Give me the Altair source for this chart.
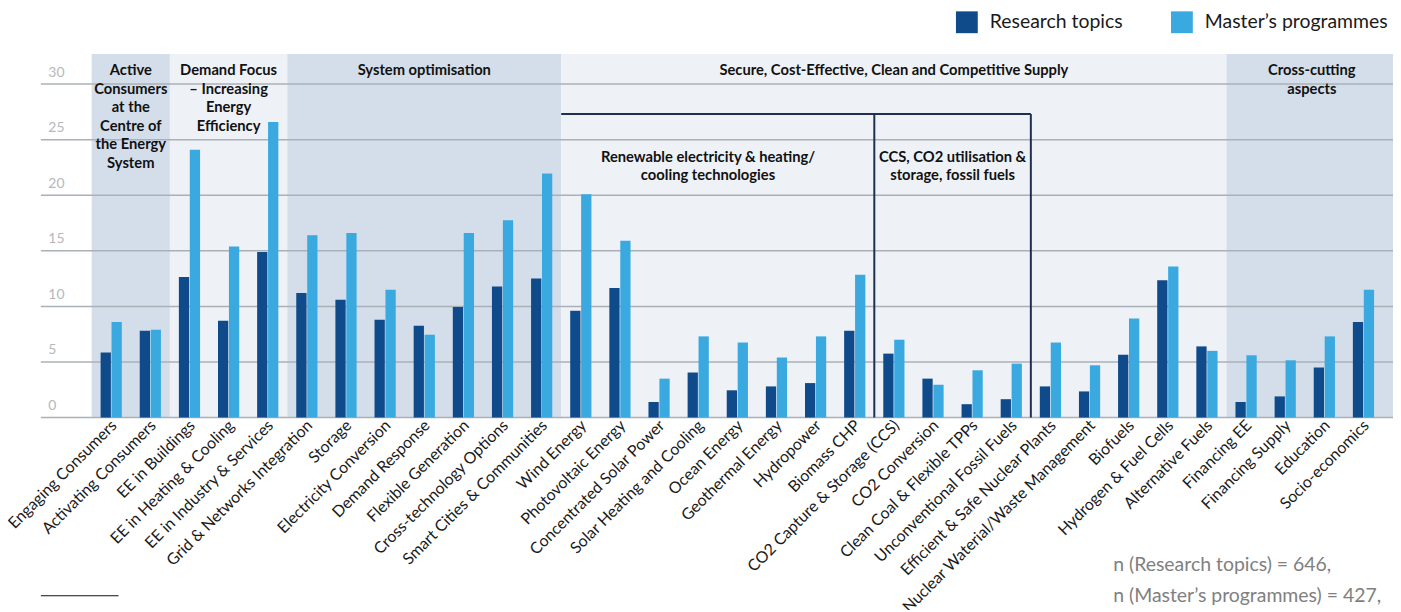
import altair as alt
import pandas as pd

categories = [
    "Engaging Consumers", "Activating Consumers", "EE in Buildings", "EE in Heating & Cooling",
    "EE in Industry & Services", "Grid & Networks Integration", "Storage", "Electricity Conversion",
    "Demand Response", "Flexible Generation", "Cross-technology Options", "Smart Cities & Communities",
    "Wind Energy", "Photovoltaic Energy", "Concentrated Solar Power", "Solar Heating and Cooling",
    "Ocean Energy", "Geothermal Energy", "Hydropower", "Biomass CHP",
    "CO2 Capture & Storage (CCS)", "CO2 Conversion", "Clean Coal & Flexible TPPs",
    "Unconventional Fossil Fuels", "Efficient & Safe Nuclear Plants",
    "Nuclear Waterial/Waste Management", "Biofuels", "Hydrogen & Fuel Cells", "Alternative Fuels",
    "Financing EE", "Financing Supply", "Education", "Socio-economics",
]
research = [5.85, 7.8, 12.65, 8.7, 14.9, 11.2, 10.6, 8.8, 8.25, 9.95, 11.8, 12.5,
            9.6, 11.65, 1.4, 4.05, 2.45, 2.8, 3.1, 7.8,
            5.75, 3.5, 1.2, 1.65, 2.8, 2.35, 5.65, 12.35, 6.4,
            1.4, 1.9, 4.5, 8.6]
masters = [8.6, 7.9, 24.1, 15.4, 26.6, 16.4, 16.6, 11.5, 7.45, 16.6, 17.75, 21.95,
           20.1, 15.9, 3.5, 7.3, 6.75, 5.4, 7.3, 12.85,
           7.0, 2.95, 4.25, 4.85, 6.75, 4.7, 8.9, 13.6, 6.0,
           5.6, 5.15, 7.3, 11.5]
group_names = ["Active", "Demand", "System", "Supply", "Cross"]
group_first = ["Engaging Consumers", "EE in Buildings", "Grid & Networks Integration",
               "Wind Energy", "Financing EE"]
group_last = ["Activating Consumers", "EE in Industry & Services", "Smart Cities & Communities",
              "Alternative Fuels", "Socio-economics"]
group_shade = ["dark", "light", "dark", "light", "dark"]
series_names = ["Research topics", "Master\u2019s programmes"]
y_ticks = [0, 5, 10, 15, 20, 25, 30]

W, H = 1297, 365
FONT = "Lato"

rows = []
for c, r, m in zip(categories, research, masters):
    rows.append({"cat": c, "series": series_names[0], "value": r})
    rows.append({"cat": c, "series": series_names[1], "value": m})
bars_df = pd.DataFrame(rows)
bands_df = pd.DataFrame({"g": group_names, "a": group_first, "b": group_last, "shade": group_shade})
grid_df = pd.DataFrame({"v": y_ticks})

xscale = alt.Scale(domain=categories, paddingInner=0, paddingOuter=0)
fill_scale = alt.Scale(domain=["dark", "light"], range=["#d4deea", "#eef2f7"])

xaxis = alt.Axis(title=None, labelAngle=-45, labelAlign="right", labelBaseline="middle",
                 labelFontSize=16, labelFont=FONT, labelColor="#1a1a1a", domain=False,
                 ticks=False, labelPadding=5, labelOffset=3, labelLimit=400, grid=False)

# group background bands (last group's band runs on to the end of the grid)
bands = alt.Chart(bands_df).transform_filter(alt.datum.g != "Cross").mark_rect(stroke=None).encode(
    x=alt.X("a:N", scale=xscale, bandPosition=0, axis=xaxis),
    x2=alt.X2("b:N", bandPosition=1),
    y=alt.value(0), y2=alt.value(H),
    fill=alt.Fill("shade:N", scale=fill_scale, legend=None),
)
band_last = alt.Chart(bands_df).transform_filter(alt.datum.g == "Cross").mark_rect(stroke=None).encode(
    x=alt.X("a:N", scale=xscale, bandPosition=0, axis=xaxis),
    x2=alt.value(W + 10),
    y=alt.value(0), y2=alt.value(H),
    fill=alt.Fill("shade:N", scale=fill_scale, legend=None),
)

grid = alt.Chart(grid_df).mark_rule(color="#aab0b7", strokeWidth=1.5).encode(
    y=alt.Y("v:Q"), x=alt.value(-51), x2=alt.value(W + 10),
)

bars = alt.Chart(bars_df).mark_bar().encode(
    x=alt.X("cat:N", scale=xscale, axis=xaxis),
    xOffset=alt.XOffset("series:N", sort=series_names,
                        scale=alt.Scale(domain=series_names, paddingInner=0.06, paddingOuter=0.82)),
    y=alt.Y("value:Q", scale=alt.Scale(domain=[0, 32.7], nice=False, zero=True),
            axis=alt.Axis(values=y_ticks, title=None, domain=False, ticks=False, grid=False,
                          labelAlign="left", labelPadding=44, labelOffset=-12, labelFlush=False,
                          labelFontSize=14, labelFont=FONT, labelColor="#b5b8bc")),
    color=alt.Color("series:N", sort=series_names,
                    scale=alt.Scale(domain=series_names, range=["#0f4a8a", "#3aa9e0"]),
                    legend=alt.Legend(orient="none", legendX=868, legendY=-43, direction="horizontal",
                                      title=None, symbolType="square", symbolSize=480,
                                      symbolStrokeWidth=0, labelFontSize=19.5, labelFont=FONT,
                                      labelColor="#1a1a1a", columnPadding=48, labelOffset=12,
                                      labelLimit=400)),
)

# bracket lines
bracket_level = 27.3
bracket_h = pd.DataFrame({"a": ["Wind Energy"], "b": ["Efficient & Safe Nuclear Plants"], "v": [bracket_level]})
bracket_v = pd.DataFrame({"a": ["CO2 Capture & Storage (CCS)", "Efficient & Safe Nuclear Plants"],
                          "v": [bracket_level, bracket_level], "z": [0, 0]})
line_color = "#1e2f4f"
br_h = alt.Chart(bracket_h).mark_rule(color=line_color, strokeWidth=2).encode(
    x=alt.X("a:N", scale=xscale, bandPosition=0, axis=xaxis),
    x2=alt.X2("b:N", bandPosition=0),
    y=alt.Y("v:Q"),
)
br_v = alt.Chart(bracket_v).mark_rule(color=line_color, strokeWidth=2).encode(
    x=alt.X("a:N", scale=xscale, bandPosition=0, axis=xaxis),
    y=alt.Y("v:Q"), y2=alt.Y2("z:Q"),
)

# header texts
hdr_active = pd.DataFrame({"cat": ["Activating Consumers"],
                           "label": ["Active\nConsumers\nat the\nCentre of\nthe Energy\nSystem"]})
hdr_cross = pd.DataFrame({"cat": ["Education"], "label": ["Cross-cutting\naspects"]})
hdr_mid = pd.DataFrame({
    "cat": ["EE in Heating & Cooling", "Demand Response", "CO2 Capture & Storage (CCS)"],
    "label": ["Demand Focus\n\u2013 Increasing\nEnergy\nEfficiency", "System optimisation",
              "Secure, Cost-Effective, Clean and Competitive Supply"],
})
sub_ccs = pd.DataFrame({"cat": ["Clean Coal & Flexible TPPs"],
                        "label": ["CCS, CO2 utilisation &\nstorage, fossil fuels"]})
sub_ren = pd.DataFrame({"cat": ["Solar Heating and Cooling"],
                        "label": ["Renewable electricity & heating/\ncooling technologies"]})

def text_layer(df, bp, ytop):
    return alt.Chart(df).mark_text(font=FONT, fontSize=14.8, fontWeight="bold", color="#111111",
                                   align="center", baseline="top", lineBreak="\n",
                                   lineHeight=18.7).encode(
        x=alt.X("cat:N", scale=xscale, bandPosition=bp, axis=xaxis),
        y=alt.value(ytop),
        text="label:N",
    )

t1 = text_layer(hdr_active, 0, 9)
t1b = text_layer(hdr_cross, 0.18, 9)
t2 = text_layer(hdr_mid, 0.5, 9)
t3 = text_layer(sub_ccs, 0, 96)
t4 = text_layer(sub_ren, 0.75, 96)

notes_df = pd.DataFrame({"label": ["n (Research topics) = 646,", "n (Master\u2019s programmes) = 427,"],
                         "yy": [513, 544]})
notes = alt.Chart(notes_df).mark_text(font=FONT, fontSize=19.5, color="#808080", align="left",
                                      baseline="middle").encode(
    x=alt.value(1026), y=alt.Y("yy:Q", scale=None), text="label:N",
)
foot_line = alt.Chart(pd.DataFrame({"k": [0]})).mark_rule(color="#111111", strokeWidth=1.2).encode(
    x=alt.value(-51), x2=alt.value(27), y=alt.value(544),
)

chart = alt.layer(bands, band_last, grid, bars, br_h, br_v, t1, t1b, t2, t3, t4, notes,
                  foot_line).properties(
    width=W, height=H,
    autosize=alt.AutoSizeParams(type="none"),
    padding={"left": 84, "top": 45, "right": 10, "bottom": 192},
).configure_view(stroke=None).configure_axis(labelFont=FONT)

chart.save("out.html", embed_options={"renderer": "svg", "actions": False})
